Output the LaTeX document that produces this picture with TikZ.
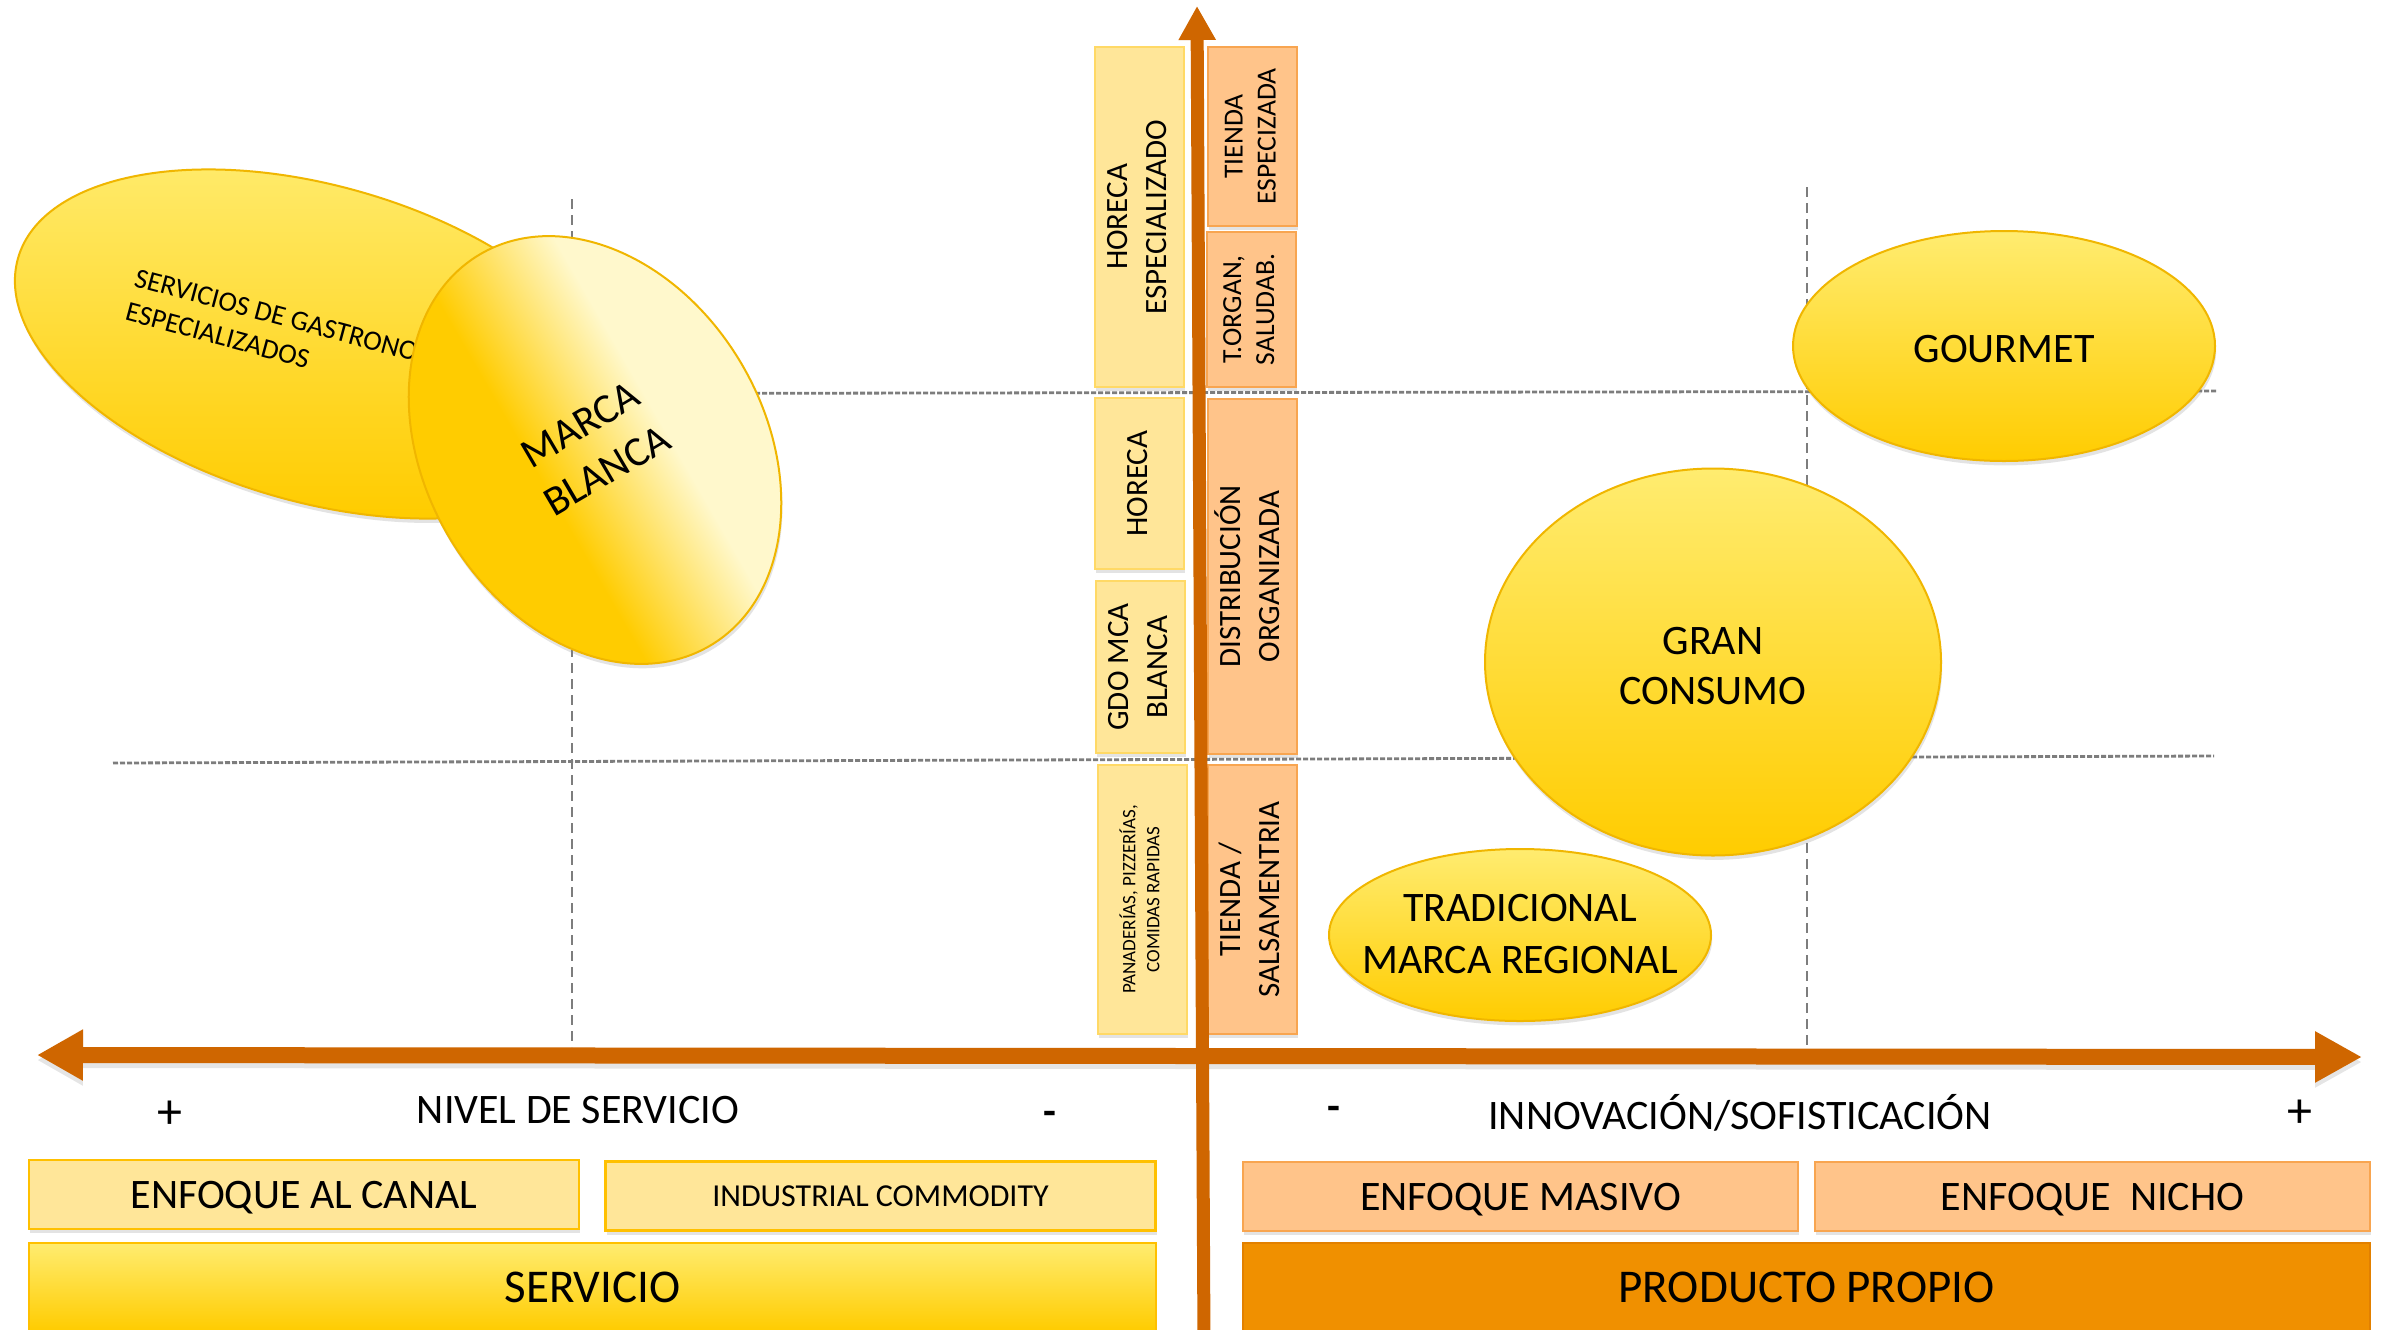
\documentclass[tikz,border=0pt]{standalone}
\usepackage{fontspec}
\usepackage{graphicx}
\setmainfont{Carlito}
\usetikzlibrary{shapes.geometric,arrows.meta,shadows}

\definecolor{axisor}{RGB}{207,102,0}
\definecolor{ytop}{RGB}{255,236,112}
\definecolor{ybot}{RGB}{255,204,0}
\definecolor{yedge}{RGB}{240,182,0}
\definecolor{ylight}{RGB}{255,230,153}
\definecolor{ylightedge}{RGB}{255,217,102}
\definecolor{goldedge}{RGB}{255,192,0}
\definecolor{peach}{RGB}{255,196,138}
\definecolor{peachedge}{RGB}{248,165,80}
\definecolor{orangebar}{RGB}{240,144,0}
\definecolor{orangebaredge}{RGB}{226,128,0}
\definecolor{pale}{RGB}{255,248,204}
\definecolor{gridgray}{RGB}{125,125,125}

% gold-to-pale sweep used on the private-label bubble
\pgfdeclarehorizontalshading{mbshade}{100bp}{color(0bp)=(ybot); color(43bp)=(ybot); color(58bp)=(pale); color(100bp)=(pale)}

\newcommand{\fsz}[2]{\fontsize{#1}{#2}\selectfont}
% centred lines in a zero-width box, so a bubble keeps its own size;
% the optional argument lowers the lines without changing the box
\newcommand{\zwtext}[2][0pt]{\raisebox{-#1}[\height][\depth]{\makebox[0pt]{\begin{tabular}{@{}c@{}}#2\end{tabular}}}}
% centred lines turned to read bottom-to-top
\newcommand{\vtxt}[1]{\rotatebox{90}{\begin{tabular}{@{}c@{}}#1\end{tabular}}}

\tikzset{
  softshadow/.style={drop shadow={opacity=0.22, shadow xshift=0.6pt, shadow yshift=-2.2pt}},
  hgrid/.style={draw=gridgray, line width=1.4pt, dash pattern=on 2.5pt off 1pt},
  vgrid/.style={draw=gridgray, line width=0.9pt, dash pattern=on 5pt off 3pt},
  bubble/.style={ellipse, draw=yedge, line width=1pt, top color=ytop, bottom color=ybot,
    softshadow, inner sep=0pt, font=\fsz{21}{25}},
  colbox/.style={rectangle, line width=1pt, minimum width=44.5pt, inner sep=0pt,
    softshadow, font=\fsz{15.5}{19.5}},
  ybox/.style={colbox, draw=ylightedge, fill=ylight},
  pbox/.style={colbox, draw=peachedge, fill=peach},
  enfy/.style={rectangle, draw=goldedge, line width=1.4pt, fill=ylight, inner sep=0pt,
    minimum width=275pt, minimum height=34.5pt, softshadow, font=\fsz{21}{25},
    text height=13.5pt, text depth=0pt},
  enfp/.style={enfy, draw=peachedge, fill=peach, minimum width=277.5pt},
  servbox/.style={rectangle, draw=goldedge, line width=1.4pt, top color=ytop, bottom color=ybot,
    inner sep=0pt, minimum width=563.5pt, minimum height=44pt, font=\fsz{23.5}{28},
    text height=15.1pt, text depth=0pt},
  propbox/.style={servbox, draw=orangebaredge, fill=orangebar, top color=orangebar, bottom color=orangebar},
  axlabel/.style={inner sep=0pt, anchor=base, font=\fsz{21}{25}},
  signlabel/.style={axlabel, font=\fsz{21}{25}\bfseries},
  haxis/.style={draw=axisor, line width=8pt,
    {Triangle[width=24pt,length=23pt]}-{Triangle[width=24pt,length=23.5pt]}},
  vaxis/.style={draw=axisor, line width=6.5pt, -{Triangle[width=17.5pt,length=17pt]}}
}

\begin{document}
\begin{tikzpicture}[x=0.5pt,y=-0.5pt]
\useasboundingbox[fill=white] (0,0) rectangle (2387,1329);

% quadrant grid
\coordinate (gA1) at (300,394);  \coordinate (gA2) at (2217,391);
\coordinate (gB1) at (113,763);  \coordinate (gB2) at (2214,756);
\coordinate (gC1) at (572,199);  \coordinate (gC2) at (572,1047);
\coordinate (gD1) at (1807,187); \coordinate (gD2) at (1807,1047);
\draw[hgrid] (gA1) -- (gA2);
\draw[hgrid] (gB1) -- (gB2);
\draw[vgrid] (gC1) -- (gC2);
\draw[vgrid] (gD1) -- (gD2);

% bubbles
\node[bubble, minimum width=312pt, minimum height=158pt, rotate=-16] (gastro) at (318,344) {};
\node[inner sep=0pt, anchor=north west, rotate=-15, align=left, font=\fsz{14}{17.5}]
  (gastrotxt) at (139,263) {SERVICIOS DE GASTRONOMÍA\\ESPECIALIZADOS};
\node[ellipse, draw=yedge, line width=1pt, shading=mbshade, shading angle=30, softshadow, inner sep=0pt,
  minimum width=170pt, minimum height=227pt, rotate=30.4, font=\fsz{21}{26.5}]
  (marca) at (595,450) {\zwtext{MARCA\\BLANCA}};
\node[bubble, minimum width=211pt, minimum height=115pt] (gourmet) at (2004,346) {\zwtext[3pt]{GOURMET}};
\node[bubble, minimum width=228pt, minimum height=193.5pt] (gran) at (1713,662) {\zwtext[3.5pt]{GRAN\\CONSUMO}};
\node[bubble, minimum width=191pt, minimum height=86pt, font=\fsz{21}{26}] (trad) at (1520,935)
  {\zwtext[1pt]{TRADICIONAL\\MARCA REGIONAL}};

% channel columns beside the vertical axis
\node[ybox, minimum height=170pt] (horesp) at (1139.5,217) {\vtxt{HORECA\\ESPECIALIZADO}};
\node[ybox, minimum height=85.5pt] (horeca) at (1139.5,483.5) {\vtxt{HORECA}};
\node[ybox, minimum height=86pt] (gdo) at (1140.5,667) {\vtxt{GDO MCA\\BLANCA}};
\node[ybox, minimum height=134.5pt, font=\fsz{9.5}{12}] (pana) at (1142.5,899.5)
  {\vtxt{PANADERÍAS, PIZZERÍAS,\\COMIDAS RAPIDAS}};
\node[pbox, minimum height=89.5pt, font=\fsz{13.8}{16.5}] (tesp) at (1252.5,136.5) {\vtxt{TIENDA\\ESPECIZADA}};
\node[pbox, minimum height=77.5pt, font=\fsz{13.8}{16.5}] (torg) at (1251,309.5) {\vtxt{T.ORGAN,\\SALUDAB.}};
\node[pbox, minimum height=177.5pt] (dist) at (1252.5,576.5) {\vtxt{DISTRIBUCIÓN\\ORGANIZADA}};
\node[pbox, minimum height=134.5pt] (tsal) at (1252.5,899.5) {\vtxt{TIENDA /\\SALSAMENTRIA}};

% axis captions
\node[signlabel, font=\fsz{25}{28}] (plusL) at (170,1128) {+};
\node[axlabel] (nivel) at (578,1123) {NIVEL DE SERVICIO};
\node[signlabel] (minusL) at (1050,1125) {-};
\node[signlabel] (minusR) at (1334,1120) {-};
\node[axlabel] (innov) at (1740,1129) {INNOVACIÓN/SOFISTICACIÓN};
\node[signlabel, font=\fsz{25}{28}] (plusR) at (2300,1127) {+};

% strategy bars
\node[enfy] (canal) at (304,1194.5) {ENFOQUE AL CANAL};
\node[enfy, font=\fsz{16}{19}, text height=10.3pt] (commod) at (880.5,1196) {INDUSTRIAL COMMODITY};
\node[servbox] (serv) at (592.5,1287) {SERVICIO};
\node[enfp] (masivo) at (1520.5,1196.5) {ENFOQUE MASIVO};
\node[enfp] (nicho) at (2092.5,1196.5) {ENFOQUE\ \ NICHO};
\node[propbox] (prop) at (1806.5,1287) {PRODUCTO PROPIO};

% axes, with a faint shadow under the horizontal one
\coordinate (hleft) at (37,1055);
\coordinate (hright) at (2362,1057);
\coordinate (vbot) at (1204,1345);
\coordinate (vtop) at (1197,6);
\begin{scope}[transform canvas={yshift=-2.5pt}]
  \draw[haxis, draw=black, fill=black, opacity=0.10] (hleft) -- (hright);
\end{scope}
\draw[haxis] (hleft) -- (hright);
\draw[vaxis] (vbot) -- (vtop);
\end{tikzpicture}
\end{document}
